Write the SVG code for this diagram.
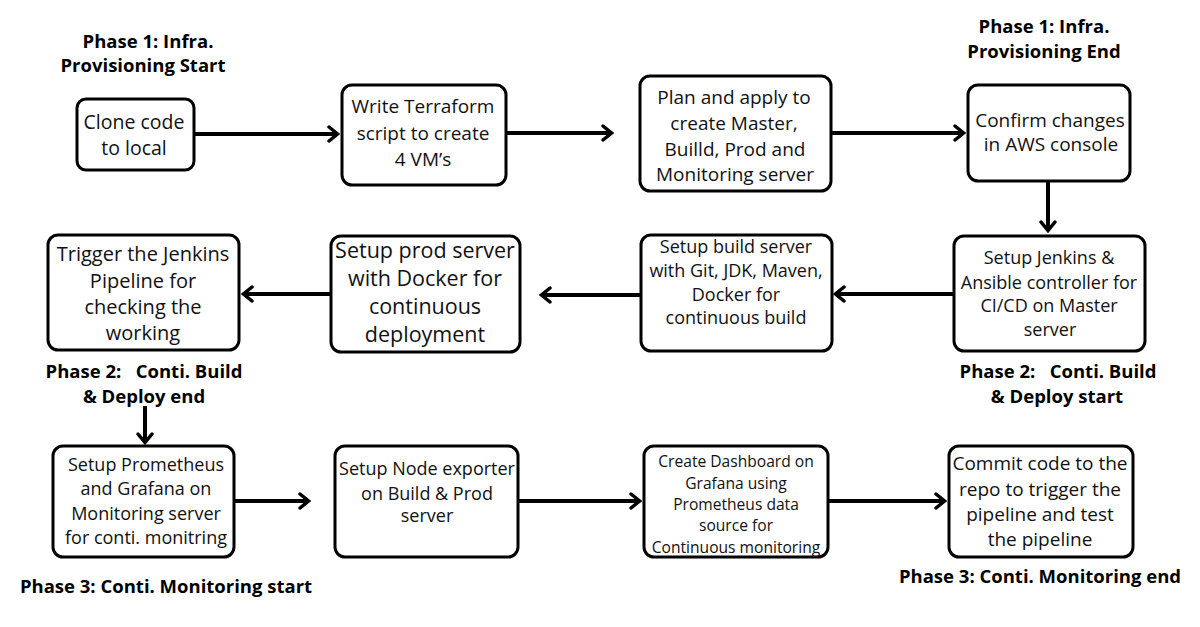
<svg xmlns="http://www.w3.org/2000/svg" width="1200" height="627" viewBox="0 0 1200 627">
<defs>
<marker id="ah" viewBox="0 0 14 18" refX="12" refY="9" markerWidth="14" markerHeight="18" markerUnits="userSpaceOnUse" orient="auto">
<path d="M3,2 L11.5,9 L3,16" fill="none" stroke="#000" stroke-width="3.5" stroke-linecap="round" stroke-linejoin="miter"/>
</marker>
</defs>
<style>
.box{fill:#fff;stroke:#000;stroke-width:3}
.t{font-family:"Open Sans","Liberation Sans",sans-serif;font-size:19px;fill:#111;text-anchor:middle}
.s{font-size:18px}
.xs{font-size:15.6px}
.l{font-size:21.5px}
.m{font-size:20px}
.lbl{font-family:"Open Sans","Liberation Sans",sans-serif;font-weight:700;font-size:18.5px;fill:#000;text-anchor:middle;white-space:pre}
.c{fill:none;stroke:#000;stroke-width:4;marker-end:url(#ah)}
</style>
<rect width="1200" height="627" fill="#fff"/>

<g id="connectors">
<line class="c" x1="195" y1="134" x2="338" y2="134"/>
<line class="c" x1="506" y1="133" x2="612" y2="133"/>
<line class="c" x1="832" y1="133" x2="964" y2="133"/>
<line class="c" x1="1048" y1="182" x2="1048" y2="231"/>
<line class="c" x1="953" y1="294" x2="835" y2="294"/>
<line class="c" x1="640" y1="295" x2="541" y2="295"/>
<line class="c" x1="330" y1="294" x2="243" y2="294"/>
<line class="c" x1="145" y1="406" x2="145" y2="443"/>
<line class="c" x1="232" y1="501" x2="309" y2="501"/>
<line class="c" x1="518" y1="501" x2="640" y2="501"/>
<line class="c" x1="829" y1="501" x2="945" y2="501"/>
</g>

<g id="label-p1-start"><text class="lbl" x="148" y="48">Phase 1: Infra.</text><text class="lbl" x="143" y="72">Provisioning Start</text></g>
<g id="label-p1-end"><text class="lbl" x="1044" y="33">Phase 1: Infra.</text><text class="lbl" x="1044" y="58">Provisioning End</text></g>
<g id="label-p2-end"><text class="lbl" x="144" y="378" xml:space="preserve">Phase 2:   Conti. Build</text><text class="lbl" x="144" y="403">&amp; Deploy end</text></g>
<g id="label-p2-start"><text class="lbl" x="1058" y="378" xml:space="preserve">Phase 2:   Conti. Build</text><text class="lbl" x="1057" y="403">&amp; Deploy start</text></g>
<g id="label-p3-start"><text class="lbl" x="166" y="593">Phase 3: Conti. Monitoring start</text></g>
<g id="label-p3-end"><text class="lbl" x="1040" y="583">Phase 3: Conti. Monitoring end</text></g>

<g id="n-clone"><rect class="box" x="77" y="99" width="117" height="71" rx="9"/>
<text class="t" x="134" y="129" style="font-size:19.5px">Clone code</text><text class="t" x="134" y="155" style="font-size:19.5px">to local</text></g>

<g id="n-terraform"><rect class="box" x="342" y="85" width="164" height="100" rx="10"/>
<text class="t" x="423" y="113">Write Terraform</text><text class="t" x="423" y="140">script to create</text><text class="t" x="423" y="166">4 VM’s</text></g>

<g id="n-plan"><rect class="box" x="640" y="76" width="191" height="115" rx="10"/>
<text class="t" x="734" y="104">Plan and apply to</text><text class="t" x="734" y="130">create Master,</text><text class="t" x="735" y="156">Builld, Prod and</text><text class="t" x="735" y="181">Monitoring server</text></g>

<g id="n-confirm"><rect class="box" x="968" y="85" width="162" height="96" rx="10"/>
<text class="t" x="1050" y="127">Confirm changes</text><text class="t" x="1051" y="151">in AWS console</text></g>

<g id="n-jenkins"><rect class="box" x="954" y="236" width="191" height="115" rx="10"/>
<text class="t s" x="1049" y="264">Setup Jenkins &amp;</text><text class="t s" x="1049" y="289">Ansible controller for</text><text class="t s" x="1049" y="312">CI/CD on Master</text><text class="t s" x="1050" y="336">server</text></g>

<g id="n-build"><rect class="box" x="641" y="235" width="191" height="116" rx="10"/>
<text class="t s" x="736" y="253">Setup build server</text><text class="t s" x="736" y="277">with Git, JDK, Maven,</text><text class="t s" x="736" y="301">Docker for</text><text class="t s" x="736" y="324">continuous build</text></g>

<g id="n-prod"><rect class="box" x="331" y="236" width="189" height="116" rx="10"/>
<text class="t l" x="425" y="258">Setup prod server</text><text class="t l" x="425" y="286">with Docker for</text><text class="t l" x="425" y="314">continuous</text><text class="t l" x="425" y="342">deployment</text></g>

<g id="n-trigger"><rect class="box" x="48" y="235" width="191" height="115" rx="10"/>
<text class="t m" x="143" y="261">Trigger the Jenkins</text><text class="t m" x="143" y="288">Pipeline for</text><text class="t m" x="143" y="314">checking the</text><text class="t m" x="143" y="340">working</text></g>

<g id="n-prometheus"><rect class="box" x="53" y="446" width="181" height="111" rx="10"/>
<text class="t s" x="146" y="471">Setup Prometheus</text><text class="t s" x="146" y="495">and Grafana on</text><text class="t s" x="146" y="520">Monitoring server</text><text class="t s" x="146" y="544">for conti. monitring</text></g>

<g id="n-nodeexp"><rect class="box" x="335" y="446" width="183" height="111" rx="10"/>
<text class="t s" x="427" y="475">Setup Node exporter</text><text class="t s" x="427" y="500">on Build &amp; Prod</text><text class="t s" x="427" y="522">server</text></g>

<g id="n-dashboard"><rect class="box" x="644" y="446" width="184" height="111" rx="10"/>
<text class="t xs" x="736" y="467">Create Dashboard on</text><text class="t xs" x="736" y="489">Grafana using</text><text class="t xs" x="736" y="510">Prometheus data</text><text class="t xs" x="736" y="531">source for</text><text class="t xs" x="736" y="553">Continuous monitoring</text></g>

<g id="n-commit"><rect class="box" x="949" y="446" width="184" height="111" rx="10"/>
<text class="t" x="1040" y="470">Commit code to the</text><text class="t" x="1040" y="496">repo to trigger the</text><text class="t" x="1040" y="521">pipeline and test</text><text class="t" x="1040" y="546">the pipeline</text></g>
</svg>
